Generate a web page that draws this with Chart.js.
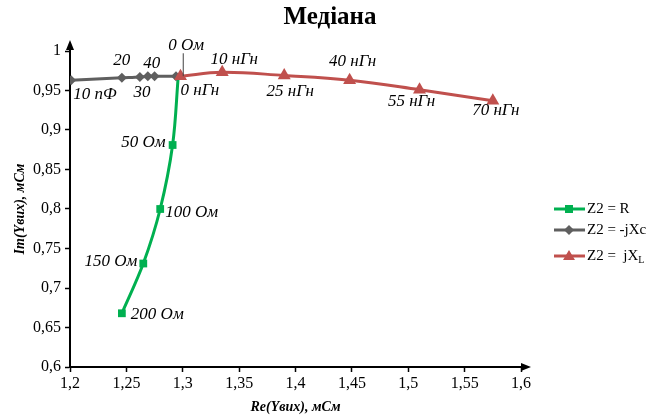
<!DOCTYPE html>
<html>
<head>
<meta charset="utf-8">
<script src="https://cdn.jsdelivr.net/npm/chart.js@4"></script>
<style>
  html, body { margin: 0; padding: 0; background: #fff; }
  #wrap { width: 646px; height: 417px; position: relative; }
</style>
</head>
<body>
<div id="wrap"><canvas id="chart" width="646" height="417"></canvas></div>
<script>
// Z2 = R
const rX = [1.296, 1.291, 1.280, 1.265, 1.246];
const rY = [0.968, 0.881, 0.800, 0.731, 0.668];
const rLabels = ['0 Ом', '50 Ом', '100 Ом', '150 Ом', '200 Ом'];

// Z2 = -jXc
const cX = [1.201, 1.246, 1.262, 1.269, 1.275, 1.294];
const cY = [0.963, 0.966, 0.967, 0.968, 0.968, 0.968];
const cLabels = ['10 пФ', '20', '30', '40', '', ''];

// Z2 = jXL
const lX = [1.298, 1.335, 1.390, 1.448, 1.510, 1.575];
const lY = [0.968, 0.973, 0.969, 0.963, 0.951, 0.937];
const lLabels = ['0 нГн', '10 нГн', '25 нГн', '40 нГн', '55 нГн', '70 нГн'];

const xTicks = [1.2, 1.25, 1.3, 1.35, 1.4, 1.45, 1.5, 1.55, 1.6];
const yTicks = [0.6, 0.65, 0.7, 0.75, 0.8, 0.85, 0.9, 0.95, 1];

const GREEN = '#00b050';
const GRAY = '#5f5f5f';
const RED = '#c0504d';
const SERIF = '"Liberation Serif", "Times New Roman", serif';

// label placement (px offset from point, text alignment)
const rOffsets = [[8, -31, 'center'], [-7, -2, 'right'], [5, 4, 'left'], [-6, -2, 'right'], [9, 1, 'left']];
const cOffsets = [[2, 14, 'left'], [0, -17, 'center'], [2, 15, 'center'], [4, -13, 'center'], null, null];
const lOffsets = [[0, 14, 'left'], [12, -13, 'center'], [6, 16, 'center'], [3, -19, 'center'], [-8, 12, 'center'], [3, 10, 'center']];

const toPts = (xs, ys) => xs.map((x, i) => ({ x, y: ys[i] }));
const fmt = (v) => String(Number(v.toFixed(2))).replace('.', ',');

const pointLabels = {
  id: 'pointLabels',
  afterDatasetsDraw(chart) {
    const ctx = chart.ctx;
    ctx.save();
    ctx.font = 'italic 17px ' + SERIF;
    ctx.fillStyle = '#000';
    ctx.textBaseline = 'middle';
    chart.data.datasets.forEach((ds, di) => {
      const meta = chart.getDatasetMeta(di);
      ds.pointText.forEach((txt, i) => {
        const off = ds.textOffsets[i];
        if (!txt || !off) return;
        const el = meta.data[i];
        ctx.textAlign = off[2];
        ctx.fillText(txt, el.x + off[0], el.y + off[1]);
      });
    });
    // leader line for "0 Ом"
    const p0 = chart.getDatasetMeta(0).data[0];
    ctx.strokeStyle = '#404040';
    ctx.lineWidth = 1;
    ctx.beginPath();
    ctx.moveTo(p0.x + 5, p0.y - 23);
    ctx.lineTo(p0.x + 5, p0.y);
    ctx.stroke();
    ctx.restore();
  },
  afterDraw(chart) {
    const ctx = chart.ctx;
    const a = chart.chartArea;
    ctx.save();
    ctx.fillStyle = '#000';
    ctx.strokeStyle = '#000';
    ctx.lineWidth = 2;
    // axis extensions + arrowheads
    ctx.beginPath();
    ctx.moveTo(a.left, a.top);
    ctx.lineTo(a.left, a.top - 6);
    ctx.moveTo(a.right, a.bottom);
    ctx.lineTo(a.right + 6, a.bottom);
    ctx.stroke();
    ctx.beginPath();
    ctx.moveTo(a.left, a.top - 11);
    ctx.lineTo(a.left - 4, a.top - 1);
    ctx.lineTo(a.left + 4, a.top - 1);
    ctx.closePath();
    ctx.fill();
    ctx.beginPath();
    ctx.moveTo(a.right + 10, a.bottom);
    ctx.lineTo(a.right, a.bottom - 4);
    ctx.lineTo(a.right, a.bottom + 4);
    ctx.closePath();
    ctx.fill();

    // title
    ctx.font = 'bold 25px ' + SERIF;
    ctx.textAlign = 'center';
    ctx.textBaseline = 'middle';
    ctx.fillText('Медіана', 330, 18);

    // legend
    ctx.font = '15px ' + SERIF;
    ctx.textAlign = 'left';
    const items = chart.data.datasets;
    const rows = [209, 230, 256];
    items.forEach((ds, i) => {
      const y = rows[i];
      ctx.strokeStyle = ds.borderColor;
      ctx.lineWidth = 3;
      ctx.beginPath();
      ctx.moveTo(554, y);
      ctx.lineTo(585, y);
      ctx.stroke();
      ctx.fillStyle = ds.borderColor;
      ctx.beginPath();
      if (ds.pointStyle === 'rect') {
        ctx.rect(565, y - 4, 8, 8);
      } else if (ds.pointStyle === 'rectRot') {
        ctx.moveTo(569, y - 5); ctx.lineTo(574, y); ctx.lineTo(569, y + 5); ctx.lineTo(564, y);
      } else {
        ctx.moveTo(569, y - 6); ctx.lineTo(575, y + 4); ctx.lineTo(563, y + 4);
      }
      ctx.closePath();
      ctx.fill();
      ctx.fillStyle = '#000';
      if (i < 2) {
        ctx.fillText(ds.label, 587, y);
      } else {
        ctx.fillText('Z2 =  jX', 587, y);
        const w = ctx.measureText('Z2 =  jX').width;
        ctx.font = '10px ' + SERIF;
        ctx.fillText('L', 587 + w, y + 4);
      }
    });
    ctx.restore();
  }
};

new Chart(document.getElementById('chart'), {
  type: 'scatter',
  data: {
    datasets: [
      {
        label: 'Z2 = R',
        data: toPts(rX, rY),
        pointText: rLabels,
        textOffsets: rOffsets,
        showLine: true,
        borderColor: GREEN,
        backgroundColor: GREEN,
        borderWidth: 3,
        tension: 0.35,
        pointStyle: 'rect',
        pointRadius: [0, 5.5, 5.5, 5.5, 5.5],
        pointBorderWidth: 0,
        order: 2
      },
      {
        label: 'Z2 = -jXc',
        data: toPts(cX, cY),
        pointText: cLabels,
        textOffsets: cOffsets,
        showLine: true,
        borderColor: GRAY,
        backgroundColor: GRAY,
        borderWidth: 3,
        tension: 0.3,
        pointStyle: 'rectRot',
        pointRadius: 5,
        pointBorderWidth: 0,
        order: 1
      },
      {
        label: 'Z2 = jXL',
        data: toPts(lX, lY),
        pointText: lLabels,
        textOffsets: lOffsets,
        showLine: true,
        borderColor: RED,
        backgroundColor: RED,
        borderWidth: 3,
        tension: 0.4,
        pointStyle: 'triangle',
        pointRadius: 7.5,
        pointBorderWidth: 0,
        order: 0
      }
    ]
  },
  options: {
    responsive: false,
    animation: false,
    events: [],
    layout: { padding: { top: 51, right: 125, left: 0, bottom: 0 } },
    plugins: { legend: { display: false }, tooltip: { enabled: false } },
    scales: {
      x: {
        type: 'linear',
        min: 1.2,
        max: 1.6,
        afterFit: (s) => { s.height = 50; },
        afterBuildTicks: (s) => { s.ticks = xTicks.map((v) => ({ value: v })); },
        ticks: { callback: fmt, font: { family: SERIF, size: 16 }, color: '#000', padding: 2, maxRotation: 0 },
        grid: { drawOnChartArea: false, color: '#000', tickLength: 5, tickWidth: 1.5 },
        border: { color: '#000', width: 2 },
        title: { display: true, text: 'Re(Yвих), мСм', font: { family: SERIF, size: 14, weight: 'bold', style: 'italic' }, color: '#000', padding: { top: 0, bottom: 1 } }
      },
      y: {
        type: 'linear',
        min: 0.6,
        max: 1,
        afterFit: (s) => { s.width = 70; },
        afterBuildTicks: (s) => { s.ticks = yTicks.map((v) => ({ value: v })); },
        ticks: { callback: fmt, font: { family: SERIF, size: 16 }, color: '#000', padding: 4 },
        grid: { drawOnChartArea: false, color: '#000', tickLength: 5, tickWidth: 1.5 },
        border: { color: '#000', width: 2 },
        title: { display: true, text: 'Im(Yвих), мСм', font: { family: SERIF, size: 14, weight: 'bold', style: 'italic' }, color: '#000', padding: { top: 12, bottom: 0 } }
      }
    }
  },
  plugins: [pointLabels]
});
</script>
</body>
</html>
